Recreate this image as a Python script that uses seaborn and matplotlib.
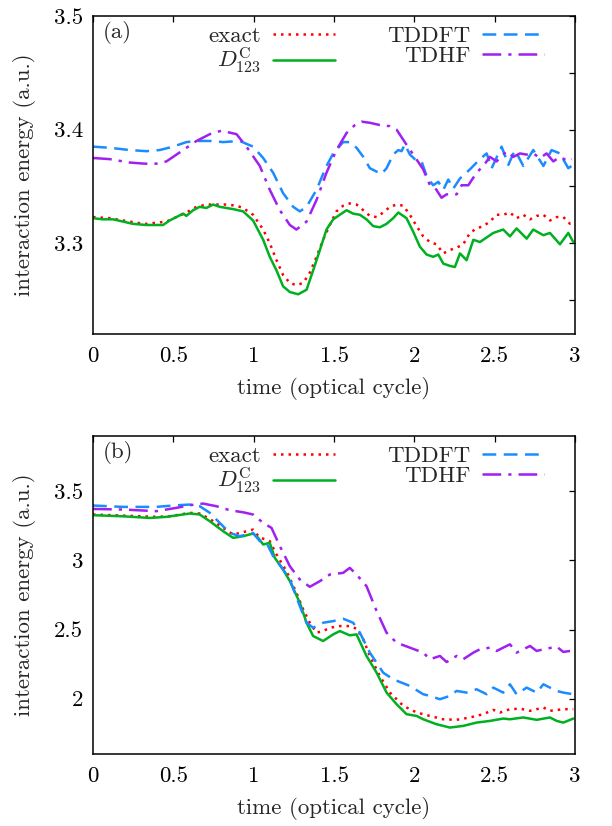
import numpy as np
import pandas as pd
import matplotlib
matplotlib.use("Agg")
import matplotlib.pyplot as plt
import seaborn as sns

# ---------------- panel (a) data ----------------
t_exact_a = [0, 0.104, 0.187, 0.270, 0.332, 0.394, 0.457, 0.519, 0.581, 0.644, 0.706, 0.768, 0.830,
             0.893, 0.934, 0.996, 1.059, 1.100, 1.142, 1.183, 1.225, 1.266, 1.308, 1.349, 1.391, 1.432,
             1.474, 1.515, 1.557, 1.598, 1.640, 1.682, 1.723, 1.765, 1.806, 1.848, 1.889, 1.931, 1.972,
             2.014, 2.055, 2.097, 2.138, 2.180, 2.221, 2.263, 2.304, 2.346, 2.387, 2.429, 2.470, 2.512,
             2.553, 2.595, 2.636, 2.678, 2.720, 2.761, 2.803, 2.844, 2.886, 2.927, 2.969, 2.989]
e_exact_a = [3.323, 3.322, 3.320, 3.318, 3.317, 3.318, 3.319, 3.323, 3.327, 3.332, 3.334, 3.334, 3.334,
             3.333, 3.331, 3.325, 3.312, 3.300, 3.285, 3.272, 3.265, 3.263, 3.265, 3.274, 3.288, 3.303,
             3.316, 3.328, 3.333, 3.335, 3.334, 3.329, 3.324, 3.323, 3.327, 3.332, 3.334, 3.333, 3.325,
             3.315, 3.306, 3.301, 3.299, 3.291, 3.294, 3.296, 3.299, 3.309, 3.313, 3.315, 3.319, 3.325,
             3.325, 3.327, 3.322, 3.325, 3.321, 3.324, 3.325, 3.320, 3.323, 3.323, 3.317, 3.317]

t_d123_a = [0, 0.062, 0.125, 0.187, 0.249, 0.332, 0.394, 0.436, 0.477, 0.519, 0.561, 0.581, 0.623,
            0.664, 0.706, 0.747, 0.789, 0.830, 0.872, 0.934, 0.996, 1.059, 1.100, 1.142, 1.183, 1.225,
            1.277, 1.329, 1.370, 1.412, 1.453, 1.495, 1.536, 1.578, 1.619, 1.661, 1.702, 1.744, 1.785,
            1.827, 1.868, 1.900, 1.951, 1.993, 2.034, 2.076, 2.117, 2.149, 2.180, 2.221, 2.252, 2.284,
            2.325, 2.367, 2.408, 2.491, 2.553, 2.595, 2.636, 2.699, 2.740, 2.803, 2.844, 2.906, 2.958,
            2.989]
e_d123_a = [3.322, 3.321, 3.321, 3.319, 3.317, 3.316, 3.316, 3.316, 3.320, 3.323, 3.326, 3.324, 3.329,
            3.332, 3.331, 3.334, 3.332, 3.331, 3.330, 3.328, 3.320, 3.303, 3.288, 3.276, 3.262, 3.257,
            3.255, 3.259, 3.276, 3.294, 3.312, 3.321, 3.325, 3.329, 3.326, 3.325, 3.321, 3.315, 3.314,
            3.317, 3.322, 3.327, 3.322, 3.310, 3.297, 3.290, 3.288, 3.290, 3.282, 3.280, 3.279, 3.291,
            3.285, 3.303, 3.301, 3.309, 3.312, 3.306, 3.313, 3.304, 3.312, 3.307, 3.309, 3.299, 3.309,
            3.301]

t_tddft_a = [0, 0.104, 0.228, 0.332, 0.415, 0.498, 0.581, 0.644, 0.727, 0.810, 0.913, 0.996, 1.059,
             1.121, 1.183, 1.246, 1.287, 1.329, 1.391, 1.453, 1.495, 1.557, 1.598, 1.640, 1.682, 1.723,
             1.765, 1.796, 1.827, 1.868, 1.900, 1.920, 1.941, 1.972, 2.003, 2.045, 2.076, 2.117, 2.149,
             2.180, 2.211, 2.242, 2.284, 2.346, 2.408, 2.450, 2.481, 2.543, 2.585, 2.626, 2.678, 2.740,
             2.803, 2.854, 2.906, 2.958, 2.989]
e_tddft_a = [3.385, 3.384, 3.382, 3.381, 3.382, 3.385, 3.389, 3.390, 3.390, 3.389, 3.390, 3.385, 3.375,
             3.362, 3.344, 3.332, 3.328, 3.332, 3.347, 3.368, 3.379, 3.389, 3.389, 3.384, 3.376, 3.366,
             3.363, 3.361, 3.366, 3.378, 3.382, 3.381, 3.387, 3.378, 3.374, 3.372, 3.359, 3.351, 3.354,
             3.347, 3.356, 3.348, 3.357, 3.365, 3.374, 3.379, 3.366, 3.385, 3.369, 3.382, 3.368, 3.382,
             3.368, 3.382, 3.379, 3.366, 3.369]

t_tdhf_a = [0, 0.104, 0.228, 0.322, 0.394, 0.457, 0.561, 0.644, 0.727, 0.799, 0.893, 0.955, 1.038,
            1.100, 1.163, 1.225, 1.266, 1.329, 1.391, 1.453, 1.515, 1.578, 1.630, 1.671, 1.723, 1.785,
            1.848, 1.889, 1.931, 1.993, 2.055, 2.097, 2.128, 2.169, 2.201, 2.263, 2.294, 2.336, 2.387,
            2.429, 2.470, 2.512, 2.574, 2.616, 2.657, 2.699, 2.740, 2.782, 2.823, 2.865, 2.906, 2.958,
            2.979]
e_tdhf_a = [3.375, 3.374, 3.371, 3.370, 3.370, 3.372, 3.382, 3.390, 3.396, 3.399, 3.396, 3.385, 3.368,
            3.347, 3.329, 3.316, 3.312, 3.319, 3.338, 3.362, 3.382, 3.397, 3.404, 3.407, 3.406, 3.404,
            3.403, 3.400, 3.391, 3.378, 3.365, 3.351, 3.349, 3.340, 3.343, 3.343, 3.351, 3.351, 3.362,
            3.368, 3.376, 3.372, 3.381, 3.376, 3.379, 3.378, 3.379, 3.375, 3.379, 3.372, 3.376, 3.372,
            3.374]

# ---------------- panel (b) data ----------------
t_exact_b = [0, 0.187, 0.394, 0.477, 0.602, 0.664, 0.727, 0.810, 0.872, 0.934, 0.996, 1.038, 1.080,
             1.100, 1.142, 1.204, 1.266, 1.308, 1.349, 1.391, 1.432, 1.474, 1.536, 1.598, 1.640, 1.682,
             1.723, 1.785, 1.848, 1.931, 2.014, 2.097, 2.180, 2.263, 2.346, 2.429, 2.491, 2.533, 2.595,
             2.657, 2.720, 2.803, 2.844, 2.927, 2.989]
e_exact_b = [3.332, 3.324, 3.315, 3.319, 3.344, 3.339, 3.300, 3.235, 3.187, 3.204, 3.223, 3.163, 3.151,
             3.139, 3.043, 2.922, 2.766, 2.646, 2.549, 2.477, 2.489, 2.513, 2.525, 2.525, 2.506, 2.429,
             2.309, 2.164, 2.044, 1.948, 1.900, 1.875, 1.851, 1.847, 1.864, 1.888, 1.919, 1.900, 1.924,
             1.928, 1.912, 1.936, 1.912, 1.924, 1.924]

t_d123_b = [0, 0.187, 0.353, 0.457, 0.602, 0.664, 0.727, 0.810, 0.872, 0.934, 0.996, 1.028, 1.059,
            1.100, 1.131, 1.183, 1.225, 1.287, 1.329, 1.370, 1.432, 1.495, 1.536, 1.598, 1.640, 1.702,
            1.765, 1.827, 1.889, 1.951, 2.014, 2.055, 2.138, 2.180, 2.221, 2.304, 2.387, 2.470, 2.553,
            2.595, 2.678, 2.761, 2.844, 2.886, 2.927, 2.989]
e_d123_b = [3.327, 3.319, 3.307, 3.315, 3.339, 3.332, 3.283, 3.211, 3.163, 3.175, 3.194, 3.163, 3.115,
            3.127, 3.019, 2.934, 2.850, 2.694, 2.549, 2.453, 2.417, 2.465, 2.489, 2.458, 2.465, 2.309,
            2.188, 2.044, 1.960, 1.888, 1.875, 1.851, 1.815, 1.803, 1.791, 1.803, 1.827, 1.839, 1.856,
            1.851, 1.864, 1.847, 1.864, 1.839, 1.827, 1.856]

t_tddft_b = [0, 0.187, 0.394, 0.498, 0.602, 0.664, 0.727, 0.789, 0.851, 0.913, 0.955, 0.996, 1.038,
             1.080, 1.121, 1.183, 1.225, 1.287, 1.329, 1.370, 1.432, 1.495, 1.557, 1.619, 1.661, 1.723,
             1.806, 1.868, 1.972, 2.055, 2.097, 2.159, 2.221, 2.263, 2.325, 2.387, 2.450, 2.491, 2.553,
             2.595, 2.636, 2.699, 2.761, 2.803, 2.844, 2.886, 2.927, 2.989]
e_tddft_b = [3.397, 3.387, 3.387, 3.397, 3.404, 3.392, 3.344, 3.271, 3.199, 3.175, 3.187, 3.199, 3.139,
             3.127, 3.031, 2.934, 2.862, 2.670, 2.549, 2.513, 2.549, 2.561, 2.578, 2.549, 2.477, 2.333,
             2.188, 2.140, 2.092, 2.032, 2.020, 1.996, 2.020, 2.056, 2.044, 2.068, 2.032, 2.080, 2.044,
             2.104, 2.032, 2.080, 2.044, 2.104, 2.080, 2.056, 2.044, 2.032]

t_tdhf_b = [0, 0.187, 0.394, 0.519, 0.602, 0.685, 0.768, 0.851, 0.934, 0.996, 1.059, 1.111, 1.163,
            1.225, 1.287, 1.349, 1.412, 1.474, 1.557, 1.598, 1.640, 1.702, 1.765, 1.827, 1.889, 1.972,
            2.055, 2.097, 2.159, 2.201, 2.263, 2.304, 2.367, 2.408, 2.470, 2.512, 2.553, 2.595, 2.636,
            2.678, 2.720, 2.761, 2.803, 2.886, 2.927, 2.969]
e_tdhf_b = [3.372, 3.368, 3.356, 3.380, 3.399, 3.411, 3.392, 3.363, 3.348, 3.332, 3.271, 3.235, 3.103,
            2.958, 2.862, 2.809, 2.850, 2.898, 2.910, 2.946, 2.898, 2.814, 2.634, 2.477, 2.405, 2.369,
            2.333, 2.285, 2.309, 2.265, 2.309, 2.285, 2.333, 2.357, 2.369, 2.345, 2.369, 2.393, 2.333,
            2.357, 2.381, 2.345, 2.357, 2.376, 2.338, 2.345]

labels = ["exact", r"$D_{123}^{\mathrm{C}}$", "TDDFT", "TDHF"]
x_ticks = [0, 0.5, 1, 1.5, 2, 2.5, 3]
x_ticklabels = ["0", "0.5", "1", "1.5", "2", "2.5", "3"]
ya_ticks = [3.25, 3.3, 3.35, 3.4, 3.45, 3.5]
ya_ticklabels = ["", "3.3", "", "3.4", "", "3.5"]
yb_ticks = [2, 2.5, 3, 3.5]
yb_ticklabels = ["2", "2.5", "3", "3.5"]

sns.set_theme(style="white")
FS = 16.5
plt.rcParams.update({
    "font.family": ["cmr10", "DejaVu Serif"],
    "mathtext.fontset": "cm",
    "axes.formatter.use_mathtext": True,
    "axes.unicode_minus": False,
    "font.size": FS,
})

colors = ["#ff0000", "#00b020", "#1a8cff", "#a020f0"]
styles = [(0, (1, 2.0)), "-", (0, (5.5, 3.0)), (0, (7.5, 2.8, 1.3, 2.8))]

fig = plt.figure(figsize=(6.12, 8.26), dpi=100)
ax_a = fig.add_axes([0.152, 0.5956, 0.7876, 0.385])
ax_b = fig.add_axes([0.152, 0.0872, 0.7876, 0.385])


def draw(ax, series, ylim, yt, ytl, tag):
    for (t, e), lab, c, ls in zip(series, labels, colors, styles):
        df = pd.DataFrame({"t": t, "e": e})
        sns.lineplot(data=df, x="t", y="e", ax=ax, color=c, linestyle=ls,
                     linewidth=1.8, label=lab, estimator=None, sort=False)
    ax.set_xlim(0, 3)
    ax.set_ylim(*ylim)
    ax.set_xticks(x_ticks)
    ax.set_xticklabels(x_ticklabels)
    ax.set_yticks(yt)
    ax.set_yticklabels(ytl)
    ax.tick_params(direction="in", top=True, right=True, length=4.5, width=0.9,
                   labelsize=FS, pad=7, colors="black")
    ax.tick_params(axis="x", pad=9)
    for s in ax.spines.values():
        s.set_linewidth(1.1)
        s.set_color("black")
    ax.set_xlabel("time (optical cycle)", fontsize=FS, labelpad=8)
    ax.set_ylabel("interaction energy (a.u.)", fontsize=FS, labelpad=13)
    h, l = ax.get_legend_handles_labels()
    ax.legend(h, l, ncol=2, loc="upper right", bbox_to_anchor=(0.94, 0.975),
              frameon=False, markerfirst=False, handlelength=2.7, handletextpad=0.5,
              columnspacing=2.3, labelspacing=0.0, fontsize=FS, borderpad=0.1,
              borderaxespad=0.0)
    ax.text(0.02, 0.947, tag, transform=ax.transAxes, ha="left", va="center", fontsize=FS)


draw(ax_a, [(t_exact_a, e_exact_a), (t_d123_a, e_d123_a), (t_tddft_a, e_tddft_a), (t_tdhf_a, e_tdhf_a)],
     (3.22, 3.5), ya_ticks, ya_ticklabels, "(a)")
draw(ax_b, [(t_exact_b, e_exact_b), (t_d123_b, e_d123_b), (t_tddft_b, e_tddft_b), (t_tdhf_b, e_tdhf_b)],
     (1.6, 3.9), yb_ticks, yb_ticklabels, "(b)")

fig.savefig("out.png", dpi=100)
